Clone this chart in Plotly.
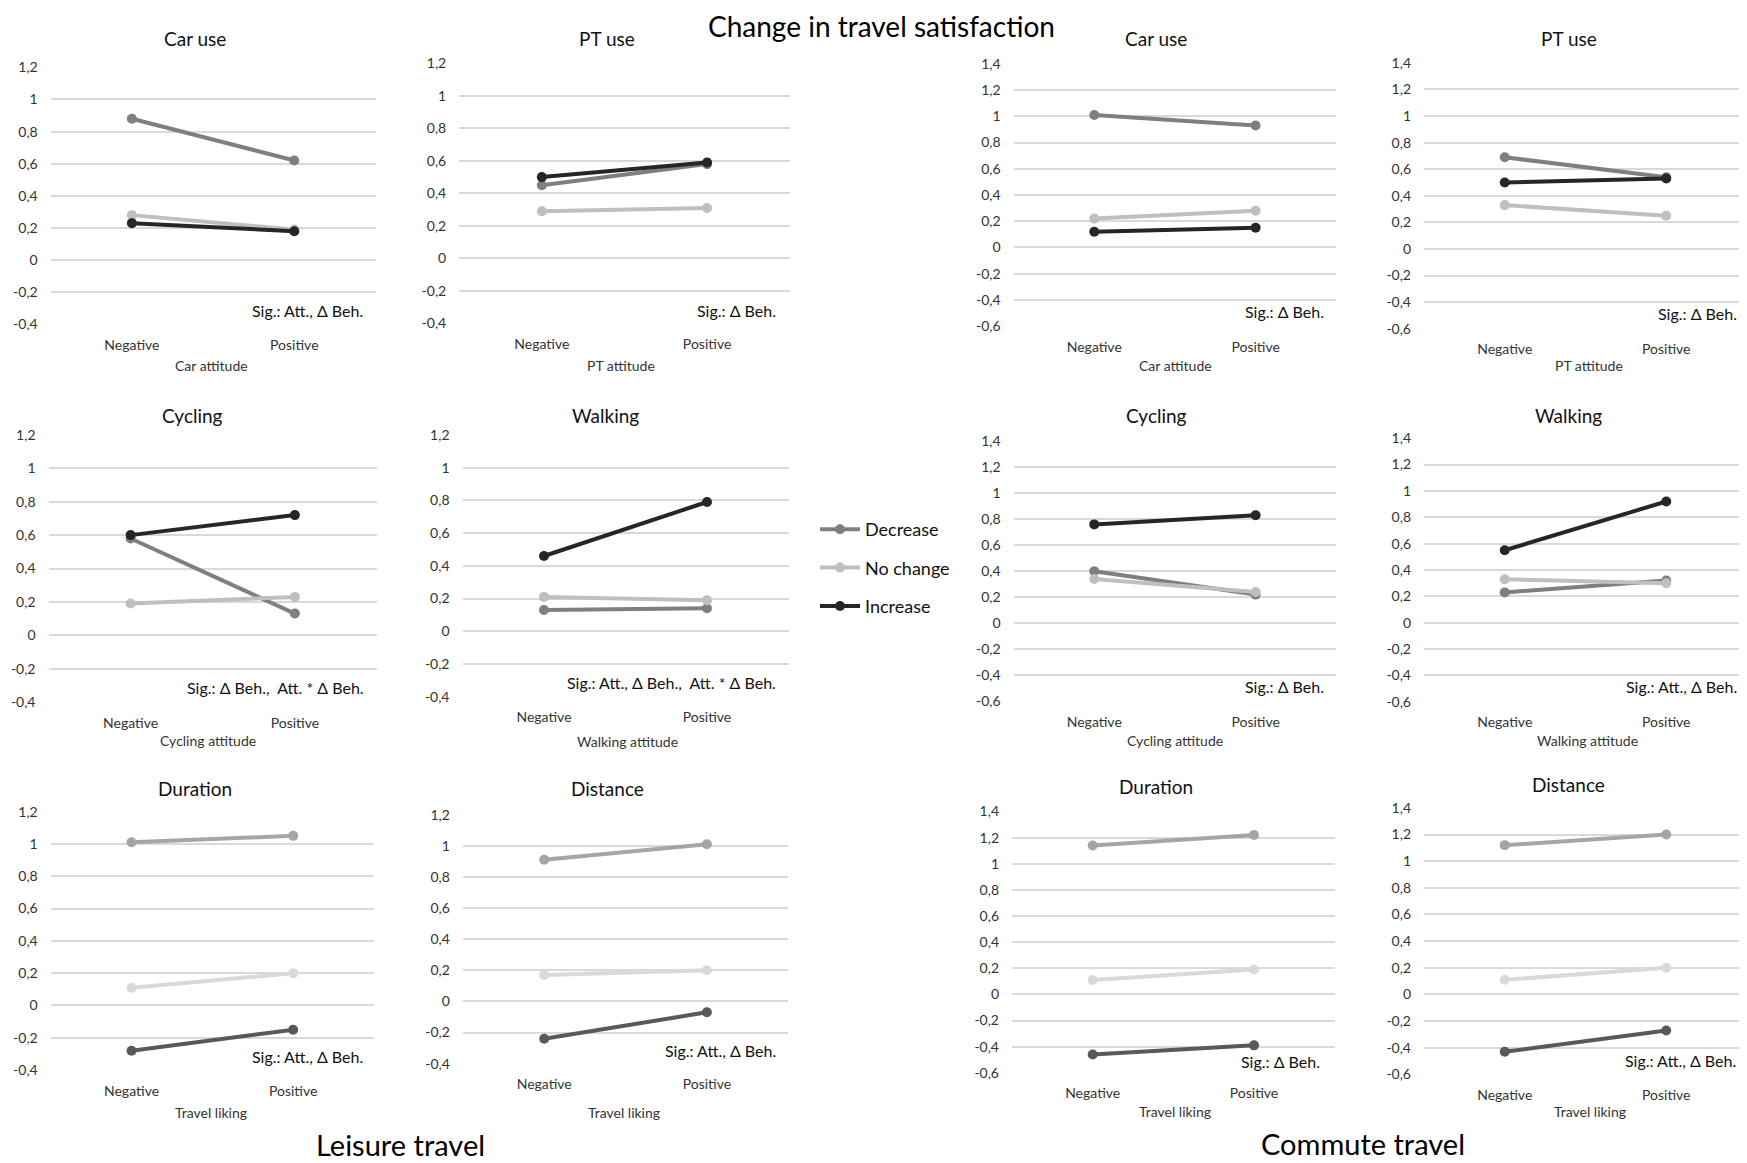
import plotly.graph_objects as go

W, H = 1747, 1163

categories = ["Negative", "Positive"]
series_names = ["Decrease", "No change", "Increase"]

# values per panel: [Decrease, No change, Increase]
leisure_car = [[0.88, 0.62], [0.28, 0.19], [0.23, 0.18]]
leisure_pt = [[0.45, 0.58], [0.29, 0.31], [0.50, 0.59]]
commute_car = [[1.01, 0.93], [0.22, 0.28], [0.12, 0.15]]
commute_pt = [[0.69, 0.54], [0.33, 0.25], [0.50, 0.53]]
leisure_cycling = [[0.58, 0.13], [0.19, 0.23], [0.60, 0.72]]
leisure_walking = [[0.13, 0.14], [0.21, 0.19], [0.46, 0.79]]
commute_cycling = [[0.40, 0.22], [0.34, 0.24], [0.76, 0.83]]
commute_walking = [[0.23, 0.32], [0.33, 0.30], [0.55, 0.92]]
leisure_duration = [[1.01, 1.05], [0.11, 0.20], [-0.28, -0.15]]
leisure_distance = [[0.91, 1.01], [0.17, 0.20], [-0.24, -0.07]]
commute_duration = [[1.14, 1.22], [0.11, 0.19], [-0.46, -0.39]]
commute_distance = [[1.12, 1.20], [0.11, 0.20], [-0.43, -0.27]]

panel_data = [leisure_car, leisure_pt, commute_car, commute_pt,
              leisure_cycling, leisure_walking, commute_cycling, commute_walking,
              leisure_duration, leisure_distance, commute_duration, commute_distance]

panel_titles = ["Car use", "PT use", "Car use", "PT use",
                "Cycling", "Walking", "Cycling", "Walking",
                "Duration", "Distance", "Duration", "Distance"]
x_titles = ["Car attitude", "PT attitude", "Car attitude", "PT attitude",
            "Cycling attitude", "Walking attitude", "Cycling attitude", "Walking attitude",
            "Travel liking", "Travel liking", "Travel liking", "Travel liking"]
sig_texts = ["Sig.: Att., Δ Beh.", "Sig.: Δ Beh.", "Sig.: Δ Beh.", "Sig.: Δ Beh.",
             "Sig.: Δ Beh.,  Att. * Δ Beh.", "Sig.: Att., Δ Beh.,  Att. * Δ Beh.",
             "Sig.: Δ Beh.", "Sig.: Att., Δ Beh.",
             "Sig.: Att., Δ Beh.", "Sig.: Att., Δ Beh.", "Sig.: Δ Beh.", "Sig.: Att., Δ Beh."]

leisure_ticks = [-0.4, -0.2, 0, 0.2, 0.4, 0.6, 0.8, 1, 1.2]
leisure_ticktext = ["-0,4", "-0,2", "0", "0,2", "0,4", "0,6", "0,8", "1", "1,2"]
commute_ticks = [-0.6, -0.4, -0.2, 0, 0.2, 0.4, 0.6, 0.8, 1, 1.2, 1.4]
commute_ticktext = ["-0,6", "-0,4", "-0,2", "0", "0,2", "0,4", "0,6", "0,8", "1", "1,2", "1,4"]

# styling / layout (pixels)
main_colors = ["#7f7f7f", "#bfbfbf", "#262626"]
travel_colors = ["#a5a5a5", "#d9d9d9", "#595959"]

# x0, x1, y_top, y_bottom in page px
boxes = [
    (50.7, 375.5, 66.7, 325.0), (459.2, 789.7, 62.7, 324.0),
    (1013.6, 1336.3, 63.3, 326.7), (1424.0, 1747.0, 62.3, 329.3),
    (48.5, 377.0, 434.3, 702.7), (462.5, 788.5, 434.3, 697.3),
    (1013.6, 1336.3, 440.7, 701.7), (1424.0, 1747.0, 437.7, 702.3),
    (50.7, 374.0, 811.0, 1070.7), (462.9, 788.2, 814.0, 1064.3),
    (1012.0, 1334.7, 811.0, 1073.3), (1424.0, 1747.0, 807.3, 1075.0),
]
is_commute = [False, False, True, True, False, False, True, True, False, False, True, True]
is_travel = [False] * 8 + [True] * 4

title_pos = [(194.6, 40), (606.7, 40), (1156.2, 40), (1568.9, 40),
             (192.9, 416.7), (605, 416.7), (1156.2, 416.7), (1568.9, 416.7),
             (194.6, 790), (607.7, 790), (1156.2, 787.7), (1568.9, 785.7)]
xtitle_pos = [(211.8, 366.7), (620.8, 366.7), (1175.2, 366.7), (1588.5, 366.7),
              (208.2, 741.7), (627.7, 742.7), (1175.2, 741.7), (1587, 741.7),
              (210.8, 1114), (624, 1114), (1175.2, 1113.3), (1589.5, 1113.3)]
sig_pos = [(364.5, 311.7), (778, 311.7), (1326, 313.3), (1739, 315),
           (365.6, 689), (777.7, 684), (1326, 687.7), (1738.8, 687.7),
           (364.5, 1057.7), (777.7, 1052.3), (1322, 1063.3), (1737.7, 1062.3)]

FONT = "Lato"
OFF = 8.0      # page body margin offset
TXT_DY = 1.5   # small vertical correction for text metrics
fig = go.Figure()
annotations = []
layout = {}

def px(x):
    return (x - OFF) / W

def py(y):
    return 1 - (y - OFF) / H

def ty(y):
    return py(y - TXT_DY)

for i in range(12):
    n = i + 1
    xa = "x" if n == 1 else f"x{n}"
    ya = "y" if n == 1 else f"y{n}"
    colors = travel_colors if is_travel[i] else main_colors
    for s in range(3):
        fig.add_trace(go.Scatter(
            x=categories, y=panel_data[i][s], name=series_names[s],
            mode="lines+markers", xaxis=xa, yaxis=ya,
            line=dict(color=colors[s], width=4),
            marker=dict(color=colors[s], size=10),
            showlegend=(i == 0), legendgroup=series_names[s],
        ))
    x0, x1, yt, yb = boxes[i]
    if is_commute[i]:
        tv, tt, rng = commute_ticks, commute_ticktext, [-0.6, 1.4]
    else:
        tv, tt, rng = leisure_ticks, leisure_ticktext, [-0.4, 1.2]
    pad = 0.004
    layout["xaxis" if n == 1 else f"xaxis{n}"] = dict(
        domain=[px(x0), min(1.0, px(x1))], anchor=ya, type="category",
        range=[-0.5, 1.5], showgrid=False, zeroline=False, showline=False,
        ticks="", ticklabelstandoff=10, automargin=False,
        tickfont=dict(family=FONT, size=14, color="#333333"),
    )
    layout["yaxis" if n == 1 else f"yaxis{n}"] = dict(
        domain=[py(yb), py(yt)], anchor=xa, automargin=False,
        range=[rng[0] - pad, rng[1] + pad], tickvals=tv, ticktext=tt,
        showgrid=True, gridcolor="#d9d9d9", gridwidth=1.6,
        zeroline=False, showline=False, ticks="", ticklabelstandoff=12,
        tickfont=dict(family=FONT, size=14, color="#333333"),
    )
    annotations.append(dict(text=panel_titles[i], x=px(title_pos[i][0]), y=ty(title_pos[i][1]),
                            xref="paper", yref="paper", showarrow=False,
                            xanchor="center", yanchor="middle",
                            font=dict(family=FONT, size=19, color="#111111")))
    annotations.append(dict(text=x_titles[i], x=px(xtitle_pos[i][0]), y=ty(xtitle_pos[i][1]),
                            xref="paper", yref="paper", showarrow=False,
                            xanchor="center", yanchor="middle",
                            font=dict(family=FONT, size=14, color="#333333")))
    annotations.append(dict(text=sig_texts[i], x=px(sig_pos[i][0]), y=ty(sig_pos[i][1]),
                            xref="paper", yref="paper", showarrow=False,
                            xanchor="right", yanchor="middle",
                            font=dict(family=FONT, size=16, color="#111111")))

annotations.append(dict(text="Change in travel satisfaction", x=px(881), y=1.0,
                        xref="paper", yref="paper", showarrow=False,
                        xanchor="center", yanchor="top", borderpad=0,
                        font=dict(family=FONT, size=28, color="#000000")))
annotations.append(dict(text="Leisure travel", x=px(400), y=ty(1146), xref="paper", yref="paper",
                        showarrow=False, xanchor="center", yanchor="middle",
                        font=dict(family=FONT, size=29, color="#000000")))
annotations.append(dict(text="Commute travel", x=px(1363), y=ty(1145), xref="paper", yref="paper",
                        showarrow=False, xanchor="center", yanchor="middle",
                        font=dict(family=FONT, size=29, color="#000000")))

fig.update_layout(
    **layout,
    width=W, height=H,
    margin=dict(l=0, r=0, t=0, b=0, pad=0, autoexpand=False),
    paper_bgcolor="white", plot_bgcolor="white",
    annotations=annotations,
    showlegend=True,
    legend=dict(x=px(815), y=py(511), xanchor="left", yanchor="top",
                font=dict(family=FONT, size=18, color="#111111"),
                tracegroupgap=12, bgcolor="rgba(0,0,0,0)", itemwidth=40),
)

fig.write_html("out.html")
